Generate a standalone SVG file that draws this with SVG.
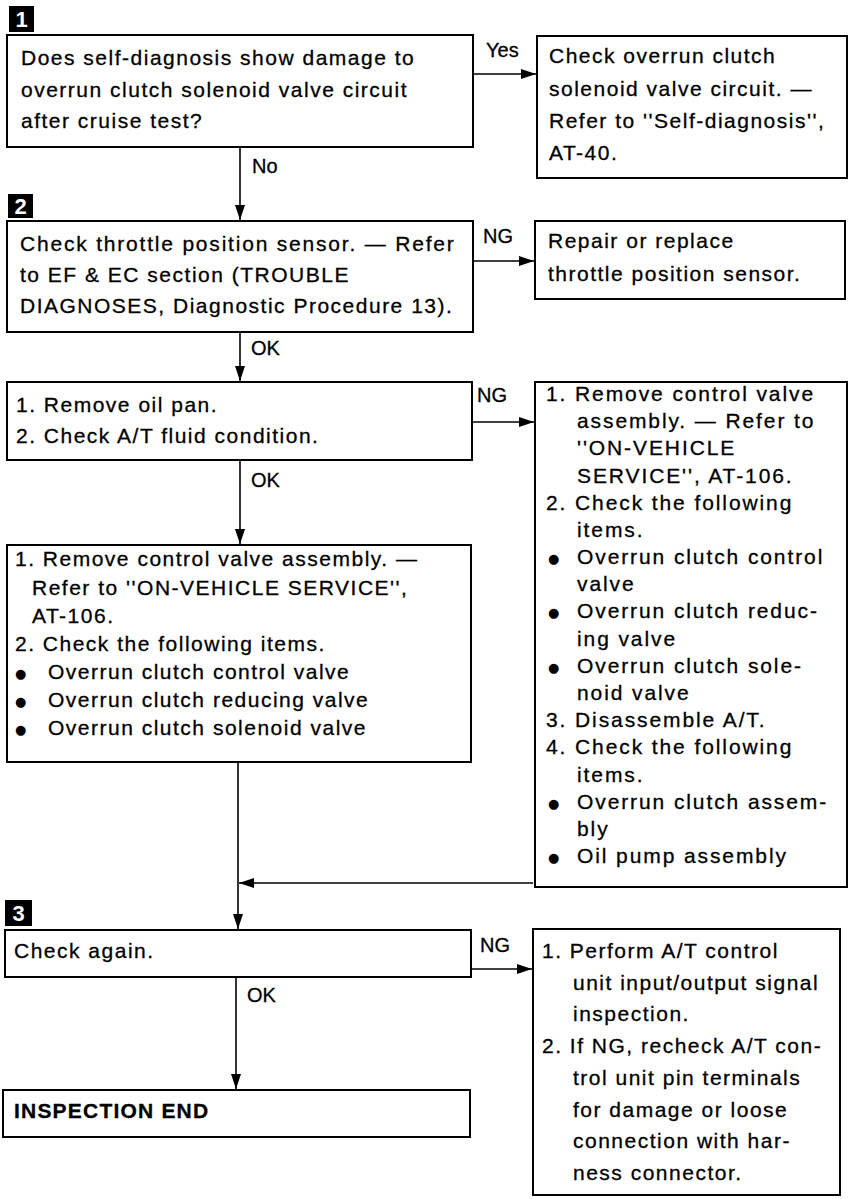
<svg xmlns="http://www.w3.org/2000/svg" width="849" height="1199" viewBox="0 0 849 1199">
<style>
.bg{fill:#fff}
.box{fill:#fff;stroke:#000;stroke-width:2}
.t{font-family:"Liberation Sans",Arial,Helvetica,sans-serif;font-size:21px;letter-spacing:1.5px;fill:#000;stroke:#000;stroke-width:0.3}
.w{letter-spacing:1.9px}
.b{font-weight:bold;letter-spacing:1.2px}
.lbl{font-family:"Liberation Sans",Arial,Helvetica,sans-serif;font-size:20px;fill:#000;stroke:#000;stroke-width:0.3}
.bul{font-family:"DejaVu Sans",sans-serif;font-size:13px;fill:#000}
.mk{fill:#000}
.mkt{font-family:"Liberation Sans",Arial,sans-serif;font-size:22px;font-weight:bold;fill:#fff;text-anchor:middle}
.conn{stroke:#000;stroke-width:1.6;fill:none}
</style>
<defs>
<marker id="arr" markerUnits="userSpaceOnUse" markerWidth="16" markerHeight="12" refX="15" refY="5" orient="auto">
<path d="M0,0 L15,5 L0,10 z" fill="#000"/>
</marker>
</defs>
<rect class="bg" x="0" y="0" width="849" height="1199"/>

<g id="connectors">
<line class="conn" x1="473" y1="74" x2="536" y2="74" marker-end="url(#arr)"/>
<line class="conn" x1="240" y1="147" x2="240" y2="220" marker-end="url(#arr)"/>
<line class="conn" x1="473" y1="261" x2="534" y2="261" marker-end="url(#arr)"/>
<line class="conn" x1="240" y1="332" x2="240" y2="381" marker-end="url(#arr)"/>
<line class="conn" x1="472" y1="422" x2="534" y2="422" marker-end="url(#arr)"/>
<line class="conn" x1="240" y1="460" x2="240" y2="544" marker-end="url(#arr)"/>
<line class="conn" x1="238" y1="762" x2="238" y2="929" marker-end="url(#arr)"/>
<line class="conn" x1="533" y1="883" x2="239" y2="883" marker-end="url(#arr)"/>
<line class="conn" x1="471" y1="969" x2="532" y2="969" marker-end="url(#arr)"/>
<line class="conn" x1="236" y1="977" x2="236" y2="1089" marker-end="url(#arr)"/>
<text class="lbl" x="486" y="57">Yes</text>
<text class="lbl" x="252" y="173">No</text>
<text class="lbl" x="483" y="243">NG</text>
<text class="lbl" x="251" y="355">OK</text>
<text class="lbl" x="477" y="402">NG</text>
<text class="lbl" x="251" y="487">OK</text>
<text class="lbl" x="480" y="952">NG</text>
<text class="lbl" x="247" y="1002">OK</text>
</g>

<g id="marker1"><rect class="mk" x="9" y="6" width="25" height="26"/><text class="mkt" x="21.5" y="27">1</text></g>
<g id="marker2"><rect class="mk" x="8" y="194" width="25" height="24"/><text class="mkt" x="20.5" y="214">2</text></g>
<g id="marker3"><rect class="mk" x="5" y="900" width="27" height="26"/><text class="mkt" x="18.5" y="921">3</text></g>

<g id="step1">
<rect class="box" x="7" y="35" width="466" height="112"/>
<text class="t" x="21" y="65">Does self-diagnosis show damage to</text>
<text class="t" x="21" y="97">overrun clutch solenoid valve circuit</text>
<text class="t" x="21" y="128">after cruise test?</text>
</g>

<g id="check-circuit">
<rect class="box" x="537" y="36" width="310" height="142"/>
<text class="t" x="549" y="63">Check overrun clutch</text>
<text class="t" x="549" y="96">solenoid valve circuit. —</text>
<text class="t" x="549" y="128">Refer to ''Self-diagnosis'',</text>
<text class="t" x="549" y="160">AT-40.</text>
</g>

<g id="step2">
<rect class="box" x="7" y="221" width="466" height="111"/>
<text class="t" x="20" y="251" style="letter-spacing:1.8px">Check throttle position sensor. — Refer</text>
<text class="t" x="20" y="282">to EF &amp; EC section (TROUBLE</text>
<text class="t" x="20" y="313">DIAGNOSES, Diagnostic Procedure 13).</text>
</g>

<g id="repair-tps">
<rect class="box" x="535" y="221" width="310" height="78"/>
<text class="t" x="548" y="248">Repair or replace</text>
<text class="t" x="548" y="281">throttle position sensor.</text>
</g>

<g id="oil-pan">
<rect class="box" x="7" y="382" width="465" height="78"/>
<text class="t" x="16" y="412">1. Remove oil pan.</text>
<text class="t" x="16" y="443">2. Check A/T fluid condition.</text>
</g>

<g id="ng-detail">
<rect class="box" x="535" y="382" width="312" height="505"/>
<text class="t w" x="546" y="401">1. Remove control valve</text>
<text class="t w" x="577" y="428">assembly. — Refer to</text>
<text class="t w" x="577" y="455">''ON-VEHICLE</text>
<text class="t w" x="577" y="483">SERVICE'', AT-106.</text>
<text class="t w" x="546" y="510">2. Check the following</text>
<text class="t w" x="577" y="537">items.</text>
<text class="bul" x="548" y="563">●</text><text class="t w" x="577" y="564">Overrun clutch control</text>
<text class="t w" x="577" y="591">valve</text>
<text class="bul" x="548" y="617">●</text><text class="t w" x="577" y="618">Overrun clutch reduc-</text>
<text class="t w" x="577" y="646">ing valve</text>
<text class="bul" x="548" y="672">●</text><text class="t w" x="577" y="673">Overrun clutch sole-</text>
<text class="t w" x="577" y="700">noid valve</text>
<text class="t w" x="546" y="727">3. Disassemble A/T.</text>
<text class="t w" x="546" y="754">4. Check the following</text>
<text class="t w" x="577" y="782">items.</text>
<text class="bul" x="548" y="808">●</text><text class="t w" x="577" y="809">Overrun clutch assem-</text>
<text class="t w" x="577" y="836">bly</text>
<text class="bul" x="548" y="862">●</text><text class="t w" x="577" y="863">Oil pump assembly</text>
</g>

<g id="control-valve">
<rect class="box" x="7" y="545" width="464" height="217"/>
<text class="t" x="15" y="566">1. Remove control valve assembly. —</text>
<text class="t" x="32" y="595">Refer to ''ON-VEHICLE SERVICE'',</text>
<text class="t" x="32" y="623">AT-106.</text>
<text class="t" x="15" y="651">2. Check the following items.</text>
<text class="bul" x="15" y="678">●</text><text class="t" x="48" y="679">Overrun clutch control valve</text>
<text class="bul" x="15" y="706">●</text><text class="t" x="48" y="707">Overrun clutch reducing valve</text>
<text class="bul" x="15" y="734">●</text><text class="t" x="48" y="735">Overrun clutch solenoid valve</text>
</g>

<g id="step3">
<rect class="box" x="5" y="930" width="466" height="47"/>
<text class="t" x="14" y="958">Check again.</text>
</g>

<g id="io-inspection">
<rect class="box" x="533" y="929" width="307" height="266"/>
<text class="t" x="542" y="958">1. Perform A/T control</text>
<text class="t" x="573" y="990">unit input/output signal</text>
<text class="t" x="573" y="1021">inspection.</text>
<text class="t" x="542" y="1053">2. If NG, recheck A/T con-</text>
<text class="t" x="573" y="1085">trol unit pin terminals</text>
<text class="t" x="573" y="1117">for damage or loose</text>
<text class="t" x="573" y="1148">connection with har-</text>
<text class="t" x="573" y="1180">ness connector.</text>
</g>

<g id="end">
<rect class="box" x="3" y="1090" width="467" height="47"/>
<text class="t b" x="14" y="1118">INSPECTION END</text>
</g>
</svg>
